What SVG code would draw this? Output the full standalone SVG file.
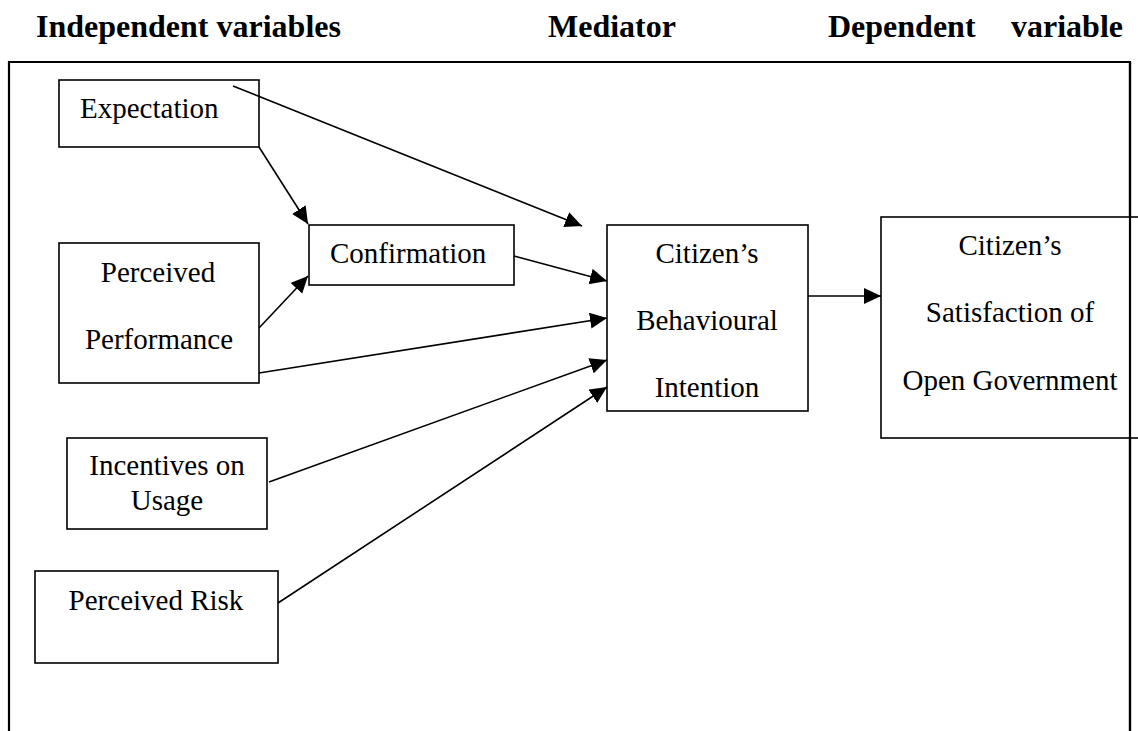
<svg xmlns="http://www.w3.org/2000/svg" width="1138" height="731" viewBox="0 0 1138 731">
  <style>
    .head { font-family: "Liberation Serif", "Times New Roman", serif; font-weight: bold; font-size: 32px; fill: #000; }
    .lbl { font-family: "Liberation Serif", "Times New Roman", serif; font-size: 29px; fill: #000; }
    .mid { text-anchor: middle; }
    .box { fill: #fff; stroke: #000; stroke-width: 1.6; }
    .frame { fill: none; stroke: #000; stroke-width: 2.2; }
    .conn line { stroke: #000; stroke-width: 1.6; marker-end: url(#arrow); }
  </style>
  <defs>
    <marker id="arrow" markerUnits="userSpaceOnUse" markerWidth="19" markerHeight="17" refX="17" refY="8" orient="auto">
      <path d="M0,0 L17,8 L0,16 Z" fill="#000"/>
    </marker>
  </defs>
  <rect width="1138" height="731" fill="#fff"/>

  <!-- column headings -->
  <g id="headings">
    <text class="head" x="36" y="37">Independent variables</text>
    <text class="head" x="548" y="37">Mediator</text>
    <text class="head" x="828" y="37">Dependent</text>
    <text class="head" x="1123" y="37" text-anchor="end">variable</text>
  </g>

  <!-- open-bottom frame -->
  <path class="frame" d="M9,731 V62 H1130 V731"/>

  <g id="expectation">
    <rect class="box" x="59" y="80" width="200" height="67"/>
    <text class="lbl" x="80" y="118">Expectation</text>
  </g>

  <g id="perceived-performance">
    <rect class="box" x="59" y="243" width="200" height="140"/>
    <text class="lbl mid" x="158" y="282">Perceived</text>
    <text class="lbl mid" x="159" y="349">Performance</text>
  </g>

  <g id="confirmation">
    <rect class="box" x="309" y="225" width="205" height="60"/>
    <text class="lbl" x="330" y="263">Confirmation</text>
  </g>

  <g id="incentives">
    <rect class="box" x="67" y="438" width="200" height="91"/>
    <text class="lbl mid" x="167" y="475">Incentives on</text>
    <text class="lbl mid" x="167" y="510">Usage</text>
  </g>

  <g id="perceived-risk">
    <rect class="box" x="35" y="571" width="243" height="92"/>
    <text class="lbl mid" x="156" y="610">Perceived Risk</text>
  </g>

  <g id="behavioural-intention">
    <rect class="box" x="607" y="225" width="201" height="186"/>
    <text class="lbl mid" x="707" y="263">Citizen’s</text>
    <text class="lbl mid" x="707" y="330">Behavioural</text>
    <text class="lbl mid" x="707" y="397">Intention</text>
  </g>

  <g id="satisfaction">
    <rect class="box" x="881" y="217" width="270" height="221"/>
    <text class="lbl mid" x="1010" y="255">Citizen’s</text>
    <text class="lbl mid" x="1010" y="322">Satisfaction of</text>
    <text class="lbl mid" x="1010" y="390">Open Government</text>
  </g>

  <!-- right frame edge drawn over the satisfaction box -->
  <line x1="1130" y1="62" x2="1130" y2="731" stroke="#000" stroke-width="2.2"/>

  <g id="connectors" class="conn">
    <line x1="233" y1="86" x2="582" y2="226"/>
    <line x1="259" y1="147" x2="308" y2="224"/>
    <line x1="259" y1="328" x2="308" y2="276"/>
    <line x1="514" y1="256" x2="607" y2="281"/>
    <line x1="259" y1="373" x2="607" y2="318"/>
    <line x1="269" y1="482" x2="607" y2="360"/>
    <line x1="278" y1="603" x2="607" y2="387"/>
    <line x1="808" y1="296" x2="881" y2="296"/>
  </g>
</svg>
